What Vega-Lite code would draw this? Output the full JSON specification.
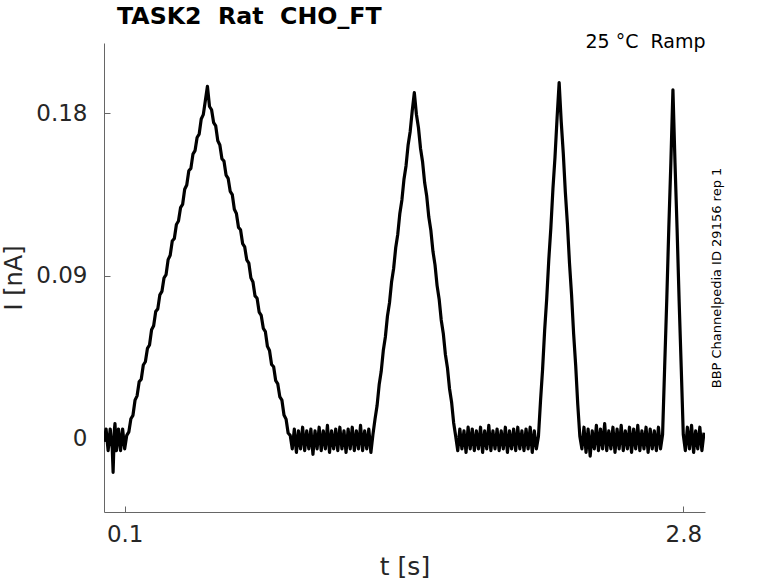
{
  "$schema": "https://vega.github.io/schema/vega-lite/v6.json",
  "width": 601,
  "height": 469,
  "autosize": {"type": "none"},
  "padding": {"left": 104, "top": 43, "right": 73, "bottom": 71},
  "background": "white",
  "title": {"text": "TASK2\u00a0\u00a0Rat\u00a0\u00a0CHO_FT", "anchor": "start", "frame": "group", "dx": 13, "offset": 3, "font": "DejaVu Sans", "fontSize": 23.7, "fontWeight": "bold", "color": "black"},
  "config": {"view": {"stroke": null}, "font": "DejaVu Sans"},
  "data": {"values": [
    {"t": 0.00, "I": -0.002}, {"t": 0.01, "I": 0.005}, {"t": 0.02, "I": -0.007}, {"t": 0.03, "I": 0.005}, {"t": 0.04, "I": -0.006}, {"t": 0.044, "I": -0.019}, {"t": 0.05, "I": 0.004}, {"t": 0.053, "I": 0.008}, {"t": 0.06, "I": -0.007}, {"t": 0.07, "I": 0.005}, {"t": 0.08, "I": -0.007}, {"t": 0.09, "I": 0.005}, {"t": 0.10, "I": -0.006},
    {"t": 0.11, "I": 0.0015}, {"t": 0.12, "I": 0.0034}, {"t": 0.13, "I": 0.0107}, {"t": 0.14, "I": 0.0126}, {"t": 0.15, "I": 0.0210}, {"t": 0.16, "I": 0.0234}, {"t": 0.17, "I": 0.0312}, {"t": 0.18, "I": 0.0326}, {"t": 0.19, "I": 0.0405}, {"t": 0.20, "I": 0.0423},
    {"t": 0.21, "I": 0.0497}, {"t": 0.22, "I": 0.0516}, {"t": 0.23, "I": 0.0600}, {"t": 0.24, "I": 0.0623}, {"t": 0.25, "I": 0.0702}, {"t": 0.26, "I": 0.0716}, {"t": 0.27, "I": 0.0794}, {"t": 0.28, "I": 0.0813}, {"t": 0.29, "I": 0.0887}, {"t": 0.30, "I": 0.0906},
    {"t": 0.31, "I": 0.0989}, {"t": 0.32, "I": 0.1013}, {"t": 0.33, "I": 0.1092}, {"t": 0.34, "I": 0.1106}, {"t": 0.35, "I": 0.1184}, {"t": 0.36, "I": 0.1203}, {"t": 0.37, "I": 0.1277}, {"t": 0.38, "I": 0.1295}, {"t": 0.39, "I": 0.1379}, {"t": 0.40, "I": 0.1403},
    {"t": 0.41, "I": 0.1482}, {"t": 0.42, "I": 0.1495}, {"t": 0.43, "I": 0.1574}, {"t": 0.44, "I": 0.1593}, {"t": 0.45, "I": 0.1666}, {"t": 0.46, "I": 0.1685}, {"t": 0.47, "I": 0.1769}, {"t": 0.48, "I": 0.1793}, {"t": 0.49, "I": 0.1871}, {"t": 0.50, "I": 0.1950},
    {"t": 0.51, "I": 0.1838}, {"t": 0.52, "I": 0.1820}, {"t": 0.53, "I": 0.1748}, {"t": 0.54, "I": 0.1730}, {"t": 0.55, "I": 0.1648}, {"t": 0.56, "I": 0.1625}, {"t": 0.57, "I": 0.1548}, {"t": 0.58, "I": 0.1535}, {"t": 0.59, "I": 0.1458}, {"t": 0.60, "I": 0.1440},
    {"t": 0.61, "I": 0.1368}, {"t": 0.62, "I": 0.1350}, {"t": 0.63, "I": 0.1268}, {"t": 0.64, "I": 0.1245}, {"t": 0.65, "I": 0.1168}, {"t": 0.66, "I": 0.1155}, {"t": 0.67, "I": 0.1078}, {"t": 0.68, "I": 0.1060}, {"t": 0.69, "I": 0.0988}, {"t": 0.70, "I": 0.0970},
    {"t": 0.71, "I": 0.0888}, {"t": 0.72, "I": 0.0865}, {"t": 0.73, "I": 0.0788}, {"t": 0.74, "I": 0.0775}, {"t": 0.75, "I": 0.0698}, {"t": 0.76, "I": 0.0680}, {"t": 0.77, "I": 0.0608}, {"t": 0.78, "I": 0.0590}, {"t": 0.79, "I": 0.0508}, {"t": 0.80, "I": 0.0485},
    {"t": 0.81, "I": 0.0408}, {"t": 0.82, "I": 0.0395}, {"t": 0.83, "I": 0.0318}, {"t": 0.84, "I": 0.0300}, {"t": 0.85, "I": 0.0228}, {"t": 0.86, "I": 0.0210}, {"t": 0.87, "I": 0.0128}, {"t": 0.88, "I": 0.0105}, {"t": 0.89, "I": 0.0028}, {"t": 0.90, "I": 0.0015},
    {"t": 0.91, "I": -0.006}, {"t": 0.92, "I": 0.005}, {"t": 0.93, "I": -0.008}, {"t": 0.94, "I": 0.004}, {"t": 0.95, "I": -0.006}, {"t": 0.96, "I": 0.006}, {"t": 0.97, "I": -0.007}, {"t": 0.98, "I": 0.004}, {"t": 0.99, "I": -0.006}, {"t": 1.00, "I": 0.005},
    {"t": 1.01, "I": -0.009}, {"t": 1.02, "I": 0.004}, {"t": 1.03, "I": -0.006}, {"t": 1.04, "I": 0.006}, {"t": 1.05, "I": -0.007}, {"t": 1.06, "I": 0.004}, {"t": 1.07, "I": -0.006}, {"t": 1.08, "I": 0.007}, {"t": 1.09, "I": -0.008}, {"t": 1.10, "I": 0.004},
    {"t": 1.11, "I": -0.006}, {"t": 1.12, "I": 0.005}, {"t": 1.13, "I": -0.007}, {"t": 1.14, "I": 0.006}, {"t": 1.15, "I": -0.006}, {"t": 1.16, "I": 0.004}, {"t": 1.17, "I": -0.008}, {"t": 1.18, "I": 0.005}, {"t": 1.19, "I": -0.006}, {"t": 1.20, "I": 0.006},
    {"t": 1.21, "I": -0.007}, {"t": 1.22, "I": 0.004}, {"t": 1.23, "I": -0.006}, {"t": 1.24, "I": 0.007}, {"t": 1.25, "I": -0.007}, {"t": 1.26, "I": 0.004}, {"t": 1.27, "I": -0.006}, {"t": 1.28, "I": 0.005}, {"t": 1.29, "I": -0.008}, {"t": 1.30, "I": 0.002},
    {"t": 1.31, "I": 0.0105}, {"t": 1.32, "I": 0.0180}, {"t": 1.33, "I": 0.0295}, {"t": 1.34, "I": 0.0370}, {"t": 1.35, "I": 0.0485}, {"t": 1.36, "I": 0.0560}, {"t": 1.37, "I": 0.0675}, {"t": 1.38, "I": 0.0750}, {"t": 1.39, "I": 0.0865}, {"t": 1.40, "I": 0.0940},
    {"t": 1.41, "I": 0.1055}, {"t": 1.42, "I": 0.1130}, {"t": 1.43, "I": 0.1245}, {"t": 1.44, "I": 0.1320}, {"t": 1.45, "I": 0.1435}, {"t": 1.46, "I": 0.1510}, {"t": 1.47, "I": 0.1625}, {"t": 1.48, "I": 0.1700}, {"t": 1.49, "I": 0.1815}, {"t": 1.50, "I": 0.1915},
    {"t": 1.51, "I": 0.1795}, {"t": 1.52, "I": 0.1720}, {"t": 1.53, "I": 0.1605}, {"t": 1.54, "I": 0.1530}, {"t": 1.55, "I": 0.1415}, {"t": 1.56, "I": 0.1340}, {"t": 1.57, "I": 0.1225}, {"t": 1.58, "I": 0.1150}, {"t": 1.59, "I": 0.1035}, {"t": 1.60, "I": 0.0960},
    {"t": 1.61, "I": 0.0845}, {"t": 1.62, "I": 0.0770}, {"t": 1.63, "I": 0.0655}, {"t": 1.64, "I": 0.0580}, {"t": 1.65, "I": 0.0465}, {"t": 1.66, "I": 0.0390}, {"t": 1.67, "I": 0.0275}, {"t": 1.68, "I": 0.0200}, {"t": 1.69, "I": 0.0085}, {"t": 1.70, "I": 0.001},
    {"t": 1.71, "I": -0.007}, {"t": 1.72, "I": 0.005}, {"t": 1.73, "I": -0.006}, {"t": 1.74, "I": 0.004}, {"t": 1.75, "I": -0.008}, {"t": 1.76, "I": 0.006}, {"t": 1.77, "I": -0.006}, {"t": 1.78, "I": 0.005}, {"t": 1.79, "I": -0.007}, {"t": 1.80, "I": 0.004},
    {"t": 1.81, "I": -0.006}, {"t": 1.82, "I": 0.006}, {"t": 1.83, "I": -0.008}, {"t": 1.84, "I": 0.004}, {"t": 1.85, "I": -0.006}, {"t": 1.86, "I": 0.007}, {"t": 1.87, "I": -0.007}, {"t": 1.88, "I": 0.004}, {"t": 1.89, "I": -0.006}, {"t": 1.90, "I": 0.005},
    {"t": 1.91, "I": -0.007}, {"t": 1.92, "I": 0.004}, {"t": 1.93, "I": -0.006}, {"t": 1.94, "I": 0.006}, {"t": 1.95, "I": -0.008}, {"t": 1.96, "I": 0.004}, {"t": 1.97, "I": -0.006}, {"t": 1.98, "I": 0.005}, {"t": 1.99, "I": -0.007}, {"t": 2.00, "I": 0.006},
    {"t": 2.01, "I": -0.006}, {"t": 2.02, "I": 0.004}, {"t": 2.03, "I": -0.007}, {"t": 2.04, "I": 0.005}, {"t": 2.05, "I": -0.006}, {"t": 2.06, "I": 0.006}, {"t": 2.07, "I": -0.008}, {"t": 2.08, "I": 0.004}, {"t": 2.09, "I": -0.006}, {"t": 2.10, "I": 0.001},
    {"t": 2.11, "I": 0.0206}, {"t": 2.12, "I": 0.0382}, {"t": 2.13, "I": 0.0598}, {"t": 2.14, "I": 0.0774}, {"t": 2.15, "I": 0.0990}, {"t": 2.16, "I": 0.1166}, {"t": 2.17, "I": 0.1382}, {"t": 2.18, "I": 0.1558}, {"t": 2.19, "I": 0.1774}, {"t": 2.20, "I": 0.1970},
    {"t": 2.21, "I": 0.1754}, {"t": 2.22, "I": 0.1578}, {"t": 2.23, "I": 0.1362}, {"t": 2.24, "I": 0.1186}, {"t": 2.25, "I": 0.0970}, {"t": 2.26, "I": 0.0794}, {"t": 2.27, "I": 0.0578}, {"t": 2.28, "I": 0.0402}, {"t": 2.29, "I": 0.0186}, {"t": 2.30, "I": 0.001},
    {"t": 2.31, "I": -0.006}, {"t": 2.32, "I": 0.006}, {"t": 2.33, "I": -0.008}, {"t": 2.34, "I": 0.005}, {"t": 2.35, "I": -0.010}, {"t": 2.36, "I": 0.004}, {"t": 2.37, "I": -0.006}, {"t": 2.38, "I": 0.007}, {"t": 2.39, "I": -0.007}, {"t": 2.40, "I": 0.005},
    {"t": 2.41, "I": -0.006}, {"t": 2.42, "I": 0.008}, {"t": 2.43, "I": -0.007}, {"t": 2.44, "I": 0.004}, {"t": 2.45, "I": -0.006}, {"t": 2.46, "I": 0.006}, {"t": 2.47, "I": -0.008}, {"t": 2.48, "I": 0.005}, {"t": 2.49, "I": -0.006}, {"t": 2.50, "I": 0.007},
    {"t": 2.51, "I": -0.007}, {"t": 2.52, "I": 0.004}, {"t": 2.53, "I": -0.006}, {"t": 2.54, "I": 0.006}, {"t": 2.55, "I": -0.008}, {"t": 2.56, "I": 0.005}, {"t": 2.57, "I": -0.006}, {"t": 2.58, "I": 0.007}, {"t": 2.59, "I": -0.007}, {"t": 2.60, "I": 0.004},
    {"t": 2.61, "I": -0.006}, {"t": 2.62, "I": 0.006}, {"t": 2.63, "I": -0.008}, {"t": 2.64, "I": 0.005}, {"t": 2.65, "I": -0.006}, {"t": 2.66, "I": 0.004}, {"t": 2.67, "I": -0.007}, {"t": 2.68, "I": 0.006}, {"t": 2.69, "I": -0.006}, {"t": 2.70, "I": 0.002},
    {"t": 2.71, "I": 0.0394}, {"t": 2.72, "I": 0.0758}, {"t": 2.73, "I": 0.1162}, {"t": 2.74, "I": 0.1526}, {"t": 2.75, "I": 0.1930},
    {"t": 2.76, "I": 0.1526}, {"t": 2.77, "I": 0.1162}, {"t": 2.78, "I": 0.0758}, {"t": 2.79, "I": 0.0394}, {"t": 2.80, "I": 0.002},
    {"t": 2.81, "I": -0.007}, {"t": 2.82, "I": 0.006}, {"t": 2.83, "I": -0.006}, {"t": 2.84, "I": 0.007}, {"t": 2.85, "I": -0.008}, {"t": 2.86, "I": 0.004}, {"t": 2.87, "I": -0.006}, {"t": 2.88, "I": 0.006}, {"t": 2.89, "I": -0.007}, {"t": 2.90, "I": 0.003}
  ]},
  "layer": [
    {
      "mark": {"type": "line", "color": "black", "strokeWidth": 3.2, "strokeJoin": "round", "clip": true},
      "encoding": {
        "x": {"field": "t", "type": "quantitative", "scale": {"domain": [0, 2.905], "nice": false, "zero": false},
          "axis": {"orient": "bottom", "values": [0.1, 2.8], "format": ".1f", "title": "t [s]", "grid": false,
            "domainColor": "#666666", "domainWidth": 1, "tickColor": "#666666", "tickSize": -6, "tickWidth": 1,
            "labelFont": "DejaVu Sans", "labelFontSize": 23, "labelColor": "#262626", "labelPadding": 17,
            "titleFont": "DejaVu Sans", "titleFontSize": 25, "titleFontWeight": "normal", "titleColor": "#262626", "titlePadding": 8}},
        "y": {"field": "I", "type": "quantitative", "scale": {"domain": [-0.041, 0.219], "nice": false, "zero": false},
          "axis": {"orient": "left", "values": [0, 0.09, 0.18], "title": "I [nA]", "grid": false,
            "labelExpr": "datum.value == 0 ? '0' : format(datum.value, '.2f')",
            "domainColor": "#666666", "domainWidth": 1, "tickColor": "#666666", "tickSize": -6, "tickWidth": 1,
            "labelFont": "DejaVu Sans", "labelFontSize": 23, "labelColor": "#262626", "labelPadding": 23,
            "titleFont": "DejaVu Sans", "titleFontSize": 24, "titleFontWeight": "normal", "titleColor": "#262626", "titlePadding": 9}}
      }
    },
    {
      "mark": {"type": "line", "opacity": 0},
      "encoding": {
        "x": {"field": "t", "type": "quantitative", "scale": {"domain": [0, 2.905], "nice": false, "zero": false},
          "axis": {"orient": "top", "title": "25 °C\u00a0\u00a0Ramp", "domain": false, "ticks": false, "labels": false, "grid": false,
            "titleAnchor": "end", "titleFont": "DejaVu Sans", "titleFontSize": 19, "titleFontWeight": "normal", "titleColor": "black", "titlePadding": -8}},
        "y": {"field": "I", "type": "quantitative", "scale": {"domain": [-0.041, 0.219], "nice": false, "zero": false},
          "axis": {"orient": "right", "title": "BBP Channelpedia ID 29156 rep 1", "domain": false, "ticks": false, "labels": false, "grid": false,
            "titleAngle": 270, "titleFont": "DejaVu Sans", "titleFontSize": 13, "titleFontWeight": "normal", "titleColor": "black", "titlePadding": 18}}
      }
    }
  ],
  "resolve": {"axis": {"x": "independent", "y": "independent"}}
}
